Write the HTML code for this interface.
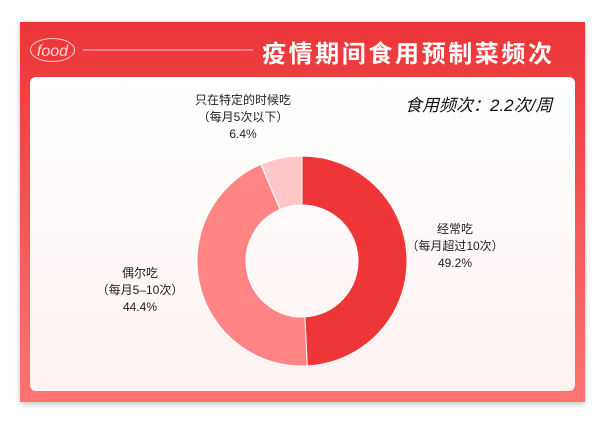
<!DOCTYPE html>
<html><head><meta charset="utf-8"><style>
body{margin:0;width:600px;height:423px;background:#fff;position:relative;overflow:hidden;font-family:"Liberation Sans","Noto Sans CJK SC",sans-serif}
.card{position:absolute;left:20px;top:22px;width:565px;height:380px;background:linear-gradient(#ec3538,#ff7473);box-shadow:0 2px 5px rgba(0,0,0,.25)}
.panel{position:absolute;left:30px;top:77px;width:545px;height:314px;border-radius:6px;background:linear-gradient(#fff,#fff2f2)}
.t{position:absolute;color:#222;font-size:12px;text-align:center;line-height:17px}
</style></head><body>
<div class="card"></div>
<svg style="position:absolute;left:0;top:0" width="600" height="423">
<ellipse cx="52.5" cy="50" rx="22" ry="11.5" fill="none" stroke="#ffd0d0" stroke-width="1"/>
<text x="52.5" y="56" font-size="16" font-style="italic" fill="#ffd8d8" text-anchor="middle" font-family="Liberation Sans,sans-serif">food</text>
<line x1="83" y1="50" x2="253" y2="50" stroke="#ffc8c8" stroke-width="1"/>
</svg>
<div style="position:absolute;left:262px;top:34px;color:#fff;font-weight:bold;font-size:24px;letter-spacing:2.6px;white-space:nowrap">疫情期间食用预制菜频次</div>
<div class="panel"></div>
<svg style="position:absolute;left:0;top:0" width="600" height="423">
<path d="M302,156 A105,105 0 0 1 307.27,365.87 L304.81,316.93 A56,56 0 0 0 302,205 Z" fill="#ee3538" stroke="#fff" stroke-width="1"/>
<path d="M307.27,365.87 A105,105 0 0 1 260.90,164.38 L280.08,209.47 A56,56 0 0 0 304.81,316.93 Z" fill="#ff8484" stroke="#fff" stroke-width="1"/>
<path d="M260.90,164.38 A105,105 0 0 1 302,156 L302,205 A56,56 0 0 0 280.08,209.47 Z" fill="#ffc7c7" stroke="#fff" stroke-width="1"/>
</svg>
<div style="position:absolute;left:405px;top:91px;font-size:17px;font-style:italic;color:#111;white-space:nowrap">食用频次：2.2次/周</div>
<div class="t" style="left:163px;top:92px;width:160px">只在特定的时候吃<br>（每月5次以下）<br>6.4%</div>
<div class="t" style="left:400px;top:221px;width:110px">经常吃<br>（每月超过10次）<br>49.2%</div>
<div class="t" style="left:90px;top:265px;width:100px">偶尔吃<br>（每月5–10次）<br>44.4%</div>
</body></html>
